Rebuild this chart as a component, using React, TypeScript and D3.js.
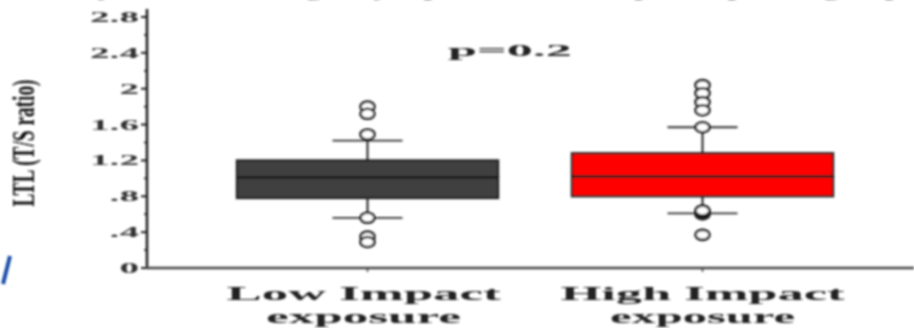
import React from "react";
import * as d3 from "d3";

// ---- data ----
const categories = ["Low Impact exposure", "High Impact exposure"];
const labelLine1 = ["Low Impact", "High Impact"];
const labelLine2 = ["exposure", "exposure"];
const q1 = [0.78, 0.8];
const median = [1.01, 1.02];
const q3 = [1.2, 1.28];
const whiskerLow = [0.56, 0.61];
const whiskerHigh = [1.42, 1.57];
const outliersLow = [1.8, 1.72, 1.49, 0.56, 0.35, 0.29];
const outliersHigh = [2.04, 1.95, 1.85, 1.76, 1.57, 0.6, 0.62, 0.64, 0.37];
const outliers = [outliersLow, outliersHigh];
const yTicks = [0, 0.4, 0.8, 1.2, 1.6, 2, 2.4, 2.8];
const yTickLabels = ["0", ".4", ".8", "1.2", "1.6", "2", "2.4", "2.8"];
const yMinorTicks = [0.2, 0.6, 1.0, 1.4, 1.8, 2.2, 2.6];
const pText = "p=0.2";
const yTitle = "LTL (T/S ratio)";
const topTitle = "Leukocyte telomere length by repetitive head impact exposure groups";

// ---- styles ----
const boxFills = ["#404040", "#ff0000"];
const ink = "#1e1e1e";
const W = 914;
const H = 328;

export default function App() {
  const y = d3.scaleLinear().domain([0, 2.8]).range([268, 17]);
  const x = d3.scaleBand<string>().domain(categories).range([200, 870]).padding(0);
  const axisX = 147;
  const bw = x.bandwidth();
  const boxW = bw * 0.78;
  const capW = 70;

  return (
    <svg width={W} height={H} style={{ position: "absolute", left: 0, top: 0, background: "#fff" }}>
      <defs>
        <filter id="soft" x="-5%" y="-5%" width="110%" height="110%">
          <feGaussianBlur stdDeviation="0.9" />
        </filter>
      </defs>
      <rect x={0} y={0} width={W} height={H} fill="#fff" />
      <g filter="url(#soft)">
        {/* clipped slide title at top */}
        <text
          x={0}
          y={-5}
          fontFamily="Liberation Serif, serif"
          fontWeight="bold"
          fontSize={20}
          fill="#777"
          textLength={W}
          lengthAdjust="spacingAndGlyphs"
        >
          {topTitle}
        </text>

        {/* blue slash from slide */}
        <line x1={10} y1={256} x2={3} y2={284} stroke="#1f4fa8" strokeWidth={4} />

        {/* y axis */}
        <line x1={axisX} y1={9} x2={axisX} y2={269} stroke={ink} strokeWidth={2.5} />
        {yTicks.map((t, i) => (
          <g key={"yt" + i}>
            <line x1={axisX - 6} x2={axisX} y1={y(t)} y2={y(t)} stroke={ink} strokeWidth={2} />
            <g transform={`translate(139,${y(t) + 5}) scale(2.8,1)`}>
              <text
                x={0}
                y={0}
                textAnchor="end"
                fontFamily="Liberation Serif, serif"
                fontWeight="bold"
                fontSize={14}
                fill="#333"
              >
                {yTickLabels[i]}
              </text>
            </g>
          </g>
        ))}
        {yMinorTicks.map((t, i) => (
          <line key={"ym" + i} x1={axisX - 3} x2={axisX} y1={y(t)} y2={y(t)} stroke={ink} strokeWidth={1.5} />
        ))}

        {/* y title */}
        <g transform={`translate(23,${143}) scale(2.4,1) rotate(-90)`}>
          <text
            x={0}
            y={4.5}
            textAnchor="middle"
            fontFamily="Liberation Serif, serif"
            fontWeight="bold"
            fontSize={13}
            fill="#111"
            textLength={127}
            lengthAdjust="spacingAndGlyphs"
          >
            {yTitle}
          </text>
        </g>

        {/* x axis */}
        <line x1={axisX - 1} y1={268} x2={W} y2={268} stroke="#444" strokeWidth={2.5} />
        {categories.map((c, i) => {
          const cx = (x(c) as number) + bw / 2;
          return <line key={"xt" + i} x1={cx} x2={cx} y1={268} y2={272} stroke="#444" strokeWidth={1.5} />;
        })}

        {/* boxes */}
        {categories.map((c, i) => {
          const cx = (x(c) as number) + bw / 2;
          return (
            <g key={"box" + i}>
              <line x1={cx} x2={cx} y1={y(q3[i])} y2={y(whiskerHigh[i])} stroke={ink} strokeWidth={2} />
              <line x1={cx} x2={cx} y1={y(q1[i])} y2={y(whiskerLow[i])} stroke={ink} strokeWidth={2} />
              <line x1={cx - capW / 2} x2={cx + capW / 2} y1={y(whiskerHigh[i])} y2={y(whiskerHigh[i])} stroke="#333" strokeWidth={1.8} />
              <line x1={cx - capW / 2} x2={cx + capW / 2} y1={y(whiskerLow[i])} y2={y(whiskerLow[i])} stroke="#333" strokeWidth={1.8} />
              <rect
                x={cx - boxW / 2}
                y={y(q3[i])}
                width={boxW}
                height={y(q1[i]) - y(q3[i])}
                fill={boxFills[i]}
                stroke="#222"
                strokeWidth={2.2}
              />
              <line x1={cx - boxW / 2} x2={cx + boxW / 2} y1={y(median[i])} y2={y(median[i])} stroke="#1a1a1a" strokeWidth={2.8} />
              {outliers[i].map((v, j) => (
                <ellipse key={j} cx={cx} cy={y(v)} rx={7} ry={5} fill="#fff" stroke={ink} strokeWidth={2.6} />
              ))}
            </g>
          );
        })}

        {/* p value */}
        <text
          x={510}
          y={56}
          textAnchor="middle"
          fontFamily="Liberation Serif, serif"
          fontWeight="bold"
          fontSize={17}
          fill="#222"
          textLength={124}
          lengthAdjust="spacingAndGlyphs"
        >
          {pText}
        </text>

        {/* x labels */}
        {categories.map((c, i) => {
          const cx = (x(c) as number) + bw / 2 - (i === 0 ? 4 : 0);
          return (
            <g key={"xl" + i}>
              <text
                x={cx}
                y={300}
                textAnchor="middle"
                fontFamily="Liberation Serif, serif"
                fontWeight="bold"
                fontSize={19}
                fill="#222"
                textLength={i === 0 ? 274 : 284}
                lengthAdjust="spacingAndGlyphs"
              >
                {labelLine1[i]}
              </text>
              <text
                x={cx}
                y={323}
                textAnchor="middle"
                fontFamily="Liberation Serif, serif"
                fontWeight="bold"
                fontSize={19}
                fill="#222"
                textLength={i === 0 ? 195 : 185}
                lengthAdjust="spacingAndGlyphs"
              >
                {labelLine2[i]}
              </text>
            </g>
          );
        })}
      </g>
    </svg>
  );
}
